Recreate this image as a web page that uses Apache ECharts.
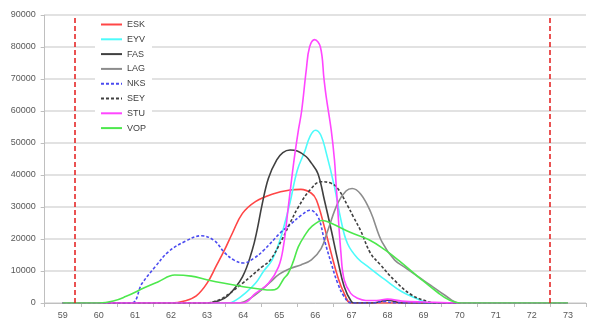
<!DOCTYPE html>
<html>
<head>
<meta charset="utf-8">
<script src="https://cdn.jsdelivr.net/npm/echarts@6/dist/echarts.min.js"></script>
<style>
  html, body { margin: 0; padding: 0; background: #fff; }
  #main { width: 589px; height: 325px; }
</style>
</head>
<body>
<div id="main"></div>
<script>
// [x, count] points
var ESK = [[59,0],[62,0],[62.4,700],[62.7,2200],[63,6200],[63.25,11500],[63.48,16500],[63.7,21800],[63.98,28000],[64.34,31700],[64.8,34000],[65.3,35300],[65.6,35500],[65.89,34300],[66.03,32200],[66.25,23800],[66.44,15500],[66.62,8200],[66.8,3000],[67,0],[73,0]];
var EYV = [[59,0],[63.6,0],[63.8,900],[64.05,3000],[64.34,6150],[64.57,10000],[64.8,13400],[65,19000],[65.12,23500],[65.3,31500],[65.5,41500],[65.71,47500],[65.85,52000],[66,54000],[66.15,52500],[66.3,47000],[66.53,36300],[66.71,25900],[66.89,18600],[67.17,14000],[67.5,11000],[67.94,7200],[68.4,3500],[68.85,1200],[69.15,0],[73,0]];
var FAS = [[59,0],[63,0],[63.3,600],[63.57,2200],[63.98,8200],[64.25,16500],[64.39,23000],[64.52,30500],[64.7,39000],[64.93,44700],[65.1,47000],[65.3,47800],[65.5,47500],[65.75,45700],[65.89,43700],[66.07,40500],[66.25,32200],[66.44,22800],[66.62,13400],[66.8,5100],[67,400],[67.1,0],[67.6,0],[68,900],[68.4,0],[73,0]];
var LAG = [[59,0],[63.9,0],[64.2,1500],[64.5,4000],[64.75,6500],[65,9000],[65.3,10800],[65.6,11900],[65.89,13500],[66.16,17000],[66.34,22500],[66.62,31200],[66.85,35000],[67.02,35800],[67.26,34000],[67.53,28500],[67.85,19000],[68.2,13400],[68.5,11000],[68.85,8200],[69.2,5500],[69.58,2500],[70,0],[73,0]];
var NKS = [[59,0],[60.88,0],[61.2,6150],[61.56,11300],[61.93,16000],[62.38,19200],[62.84,21000],[63.2,19500],[63.48,15800],[63.75,13400],[64,12500],[64.3,14000],[64.57,16500],[65.02,21800],[65.3,24500],[65.62,27500],[65.85,29000],[66.07,27000],[66.25,19700],[66.44,12400],[66.62,6150],[66.8,2000],[67,0],[67.6,0],[67.9,500],[68.2,0],[73,0]];
var SEY = [[59,0],[63,0],[63.2,500],[63.43,1500],[63.98,6150],[64.52,11300],[64.75,13400],[65.07,19700],[65.3,25000],[65.53,30000],[65.85,35300],[66.16,37900],[66.44,37400],[66.62,35800],[66.89,30500],[67.05,27000],[67.26,22500],[67.53,15500],[67.8,12000],[68.2,7000],[68.67,2500],[69.13,400],[69.3,0],[73,0]];
var STU = [[59,0],[64,0],[64.34,3000],[64.7,6150],[64.98,11300],[65.12,18000],[65.25,30000],[65.41,44700],[65.53,54000],[65.62,60000],[65.75,73000],[65.84,80000],[65.98,82300],[66.14,80000],[66.24,70000],[66.3,64500],[66.44,54000],[66.53,44700],[66.57,38000],[66.71,15500],[66.8,7200],[66.98,3000],[67.17,1500],[67.4,800],[67.7,800],[68,1200],[68.4,600],[69,300],[70,0],[73,0]];
var VOP = [[59,0],[60,0],[60.4,600],[60.74,2000],[61.29,4900],[61.65,6650],[62.1,8750],[62.56,8400],[63.02,7200],[63.48,6150],[64,5100],[64.5,4300],[64.75,4050],[64.95,4600],[65.12,7500],[65.25,9300],[65.39,13000],[65.53,17600],[65.7,21000],[65.89,23800],[66.2,25800],[66.44,24900],[66.98,22000],[67.5,19700],[67.94,16500],[68.3,13400],[68.85,8200],[69.4,3200],[69.7,1000],[70,0],[73,0]];

var xLabels = [59, 60, 61, 62, 63, 64, 65, 66, 67, 68, 69, 70, 71, 72, 73];
var boundLines = [59.33, 72.5];

var chartDom = document.getElementById('main');
var myChart = echarts.init(chartDom, null, {renderer: 'canvas'});

function curve(name, data, color, dash) {
  return {
    name: name,
    type: 'line',
    data: data,
    xAxisIndex: 0,
    smooth: 0.4,
    symbol: 'none',
    lineStyle: {color: color, width: 1.6, type: dash ? [3, 2] : 'solid'},
    itemStyle: {color: color},
    emphasis: {disabled: true}
  };
}

var series = [
  curve('ESK', ESK, '#ff4646', false),
  curve('EYV', EYV, '#4dfbfb', false),
  curve('FAS', FAS, '#404040', false),
  curve('LAG', LAG, '#8c8c8c', false),
  curve('NKS', NKS, '#4b4bf0', true),
  curve('SEY', SEY, '#404040', true),
  curve('STU', STU, '#ff46ff', false),
  curve('VOP', VOP, '#4de84d', false)
];

series[0].markLine = {
  silent: true,
  symbol: ['none', 'none'],
  label: {show: false},
  lineStyle: {color: '#e41a1a', width: 1.5, type: [5, 3]},
  data: boundLines.map(function (x) {
    return [{coord: [x, 0]}, {coord: [x, 90000]}];
  })
};

var option = {
  animation: false,
  backgroundColor: '#fff',
  grid: {left: 44.7, right: -4.3, top: 15, bottom: 22},
  legend: {
    orient: 'vertical',
    left: 95,
    top: 16,
    padding: [4, 6, 4, 5],
    backgroundColor: '#fff',
    itemWidth: 21,
    itemHeight: 9,
    itemGap: 5.8,
    itemStyle: {opacity: 0},
    textStyle: {fontSize: 9, color: '#404040', fontFamily: 'Liberation Sans'},
    data: ['ESK', 'EYV', 'FAS', 'LAG', 'NKS', 'SEY', 'STU', 'VOP']
  },
  xAxis: [
    {
      type: 'value',
      min: 58.5,
      max: 73.5,
      interval: 1,
      axisLine: {lineStyle: {color: '#bfbfbf', width: 1}},
      axisTick: {show: true, length: 4, lineStyle: {color: '#bfbfbf'}},
      axisLabel: {show: false},
      splitLine: {show: false}
    },
    {
      type: 'value',
      position: 'bottom',
      min: 58.5,
      max: 73.5,
      interval: 0.5,
      axisLine: {show: false},
      axisTick: {show: false},
      splitLine: {show: false},
      axisLabel: {
        margin: 8,
        fontSize: 9,
        color: '#595959',
        fontFamily: 'Liberation Sans',
        formatter: function (v) {
          return xLabels.indexOf(v) >= 0 ? String(v) : '';
        }
      }
    }
  ],
  yAxis: {
    type: 'value',
    min: 0,
    max: 90000,
    interval: 10000,
    axisLine: {show: true, lineStyle: {color: '#bfbfbf', width: 1}},
    axisTick: {show: true, length: 4, lineStyle: {color: '#bfbfbf'}},
    axisLabel: {
      margin: 9, fontSize: 9, color: '#595959', fontFamily: 'Liberation Sans',
      formatter: function (v) { return String(v); }
    },
    splitLine: {lineStyle: {color: '#d9d9d9', width: 1.5}}
  },
  series: series
};

option && myChart.setOption(option);
</script>
</body>
</html>
